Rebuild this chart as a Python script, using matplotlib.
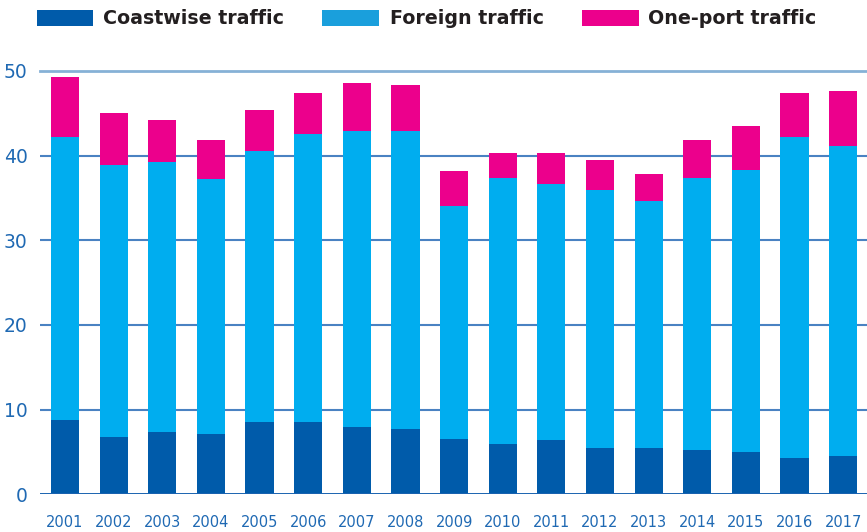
import matplotlib
matplotlib.use("Agg")
import matplotlib.pyplot as plt
from matplotlib.patches import Rectangle
import numpy as np

years = [str(y) for y in range(2001, 2018)]
coastwise = [8.8, 6.8, 7.4, 7.1, 8.5, 8.5, 7.95, 7.7, 6.5, 6.0, 6.4, 5.5, 5.5, 5.2, 5.0, 4.3, 4.5]
foreign_top = [42.2, 38.9, 39.2, 37.2, 40.6, 42.5, 42.9, 42.9, 34.0, 37.4, 36.6, 36.0, 34.7, 37.4, 38.3, 42.2, 41.2]
total = [49.3, 45.0, 44.2, 41.9, 45.4, 47.4, 48.6, 48.3, 38.2, 40.3, 40.3, 39.5, 37.8, 41.8, 43.5, 47.4, 47.6]
foreign = [round(f - c, 2) for f, c in zip(foreign_top, coastwise)]
oneport = [round(t - f, 2) for t, f in zip(total, foreign_top)]
yticks = [0, 10, 20, 30, 40, 50]
series_names = ["Coastwise traffic", "Foreign traffic", "One-port traffic"]

c_coast = "#005baa"
c_foreign = "#00adef"
c_one = "#ec008c"
tick_color = "#1f69b3"

W, H = 867, 532
fig = plt.figure(figsize=(W / 100, H / 100), dpi=100)
ax = fig.add_axes([40 / W, (H - 494.3) / H, (W - 40) / W, (494.3 - 71) / H])

x = np.arange(len(years))
bw = 0.58
ax.bar(x, coastwise, width=bw, color=c_coast, zorder=3)
ax.bar(x, foreign, width=bw, bottom=coastwise, color=c_foreign, zorder=3)
ax.bar(x, oneport, width=bw, bottom=foreign_top, color=c_one, zorder=3)

ax.set_xlim(-0.515, len(years) - 0.51)
ax.set_ylim(0, 50)
for v in yticks:
    if v == 0:
        ax.axhline(v, color="#1a63b0", lw=1.4, zorder=4)
    elif v == 50:
        ax.axhline(v, color="#86b1d6", lw=2.0, zorder=1, clip_on=False)
    else:
        ax.axhline(v, color="#4a82c2", lw=1.5, zorder=1)

for s in ax.spines.values():
    s.set_visible(False)
ax.set_yticks(yticks)
ax.set_yticklabels([str(v) for v in yticks])
ax.set_xticks(x)
ax.set_xticklabels(years)
ax.tick_params(axis="y", length=0, pad=9, labelsize=13.5, labelcolor=tick_color)
ax.tick_params(axis="x", length=0, pad=15, labelsize=10.5, labelcolor=tick_color)

# legend drawn manually
leg_items = [(37, 93, 103, c_coast), (322, 379, 390, "#1a9fdc"), (582, 639, 648, c_one)]
for (x0, x1, tx, col), name in zip(leg_items, series_names):
    fig.add_artist(Rectangle((x0 / W, 1 - 26 / H), (x1 - x0) / W, 16 / H,
                             transform=fig.transFigure, color=col, lw=0))
    fig.text(tx / W, 1 - 18 / H, name, fontsize=13.7, fontweight="bold",
             color="#231f20", va="center", ha="left")

fig.savefig("out.png", dpi=100)
